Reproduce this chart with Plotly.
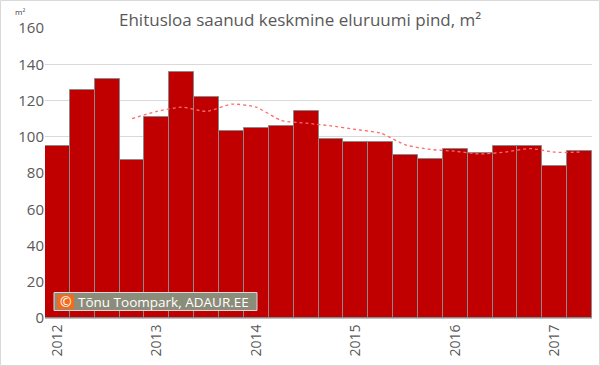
import plotly.graph_objects as go

quarters = list(range(22))
values = [95, 126, 132, 87, 111, 136, 122, 103, 105, 106, 114, 99,
          97, 97, 90, 88, 93, 91, 95, 95, 84, 92]
trend_x = list(range(3, 22))
trend = [110, 114, 116.3, 114, 118, 116.3, 109, 107.5, 106, 104, 102,
         95.5, 93, 92, 90.5, 91.5, 93.5, 91.5, 91.5]
tick_pos = [0, 4, 8, 12, 16, 20]
tick_text = ["2012", "2013", "2014", "2015", "2016", "2017"]

W, H = 600, 366
L, R, T, B = 45, 8, 28, 48
pw, ph = W - L - R, H - T - B

def px(x):
    return (x - L) / pw

def py(y):
    return (H - B - y) / ph

gray = "#595959"
font = "Open Sans, Liberation Sans, sans-serif"

fig = go.Figure()
fig.add_trace(go.Bar(x=quarters, y=values, marker=dict(color="#C00000",
                     line=dict(color="#8a8a8a", width=1)), width=1.0))
fig.add_trace(go.Scatter(x=trend_x, y=trend, mode="lines",
                         line=dict(color="#FF6A6A", width=1.3, dash="dot", shape="spline",
                                   smoothing=0.6)))

fig.update_layout(
    width=W, height=H, margin=dict(l=L, r=R, t=T, b=B, autoexpand=False),
    paper_bgcolor="white", plot_bgcolor="white", showlegend=False,
    bargap=0,
    font=dict(family=font, color=gray),
    xaxis=dict(range=[-0.5, 21.5], tickmode="array", tickvals=tick_pos, ticktext=tick_text,
               tickangle=-90, tickfont=dict(size=14, color=gray), showgrid=False,
               showline=True, linecolor="#bfbfbf", linewidth=1, ticks="", zeroline=False,
               automargin=False),
    yaxis=dict(range=[0, 160], dtick=20, tickfont=dict(size=15, color=gray),
               showgrid=True, gridcolor="#D9D9D9", gridwidth=1, zeroline=False,
               ticks="", automargin=False),
    annotations=[
        dict(text="Ehitusloa saanud keskmine eluruumi pind, m²", xref="paper", yref="paper",
             x=px(300), y=py(19), xanchor="center", yanchor="middle", showarrow=False,
             font=dict(size=17, color=gray, family=font)),
        dict(text="m²", xref="paper", yref="paper", x=px(20), y=py(11),
             xanchor="center", yanchor="middle", showarrow=False,
             font=dict(size=8, color="#404040", family=font)),
        dict(text="©", xref="paper", yref="paper",
             x=px(65.5), y=py(301.5), xanchor="center", yanchor="middle", showarrow=False,
             font=dict(size=14, color="white", family=font)),
        dict(text="Tõnu Toompark, ADAUR.EE", xref="paper", yref="paper",
             x=px(76), y=py(301.5), xanchor="left", yanchor="middle", showarrow=False,
             font=dict(size=13.5, color="white", family=font)),
    ],
    shapes=[
        dict(type="rect", xref="paper", yref="paper",
             x0=px(0.5), x1=px(W - 0.5), y0=py(H - 0.5), y1=py(0.5),
             line=dict(color="#D9D9D9", width=1)),
        dict(type="rect", xref="paper", yref="paper",
             x0=px(54), x1=px(257), y0=py(310.5), y1=py(292.5),
             fillcolor="#8C8C7A", line=dict(color="#d9d9d9", width=1)),
        dict(type="rect", xref="paper", yref="paper",
             x0=px(57), x1=px(74), y0=py(309), y1=py(294.5),
             fillcolor="#F26A1B", line=dict(width=0)),
    ],
)

fig.write_html("out.html", config={"displayModeBar": False},
               post_script="document.body.style.margin='0';document.body.style.overflow='hidden';")
